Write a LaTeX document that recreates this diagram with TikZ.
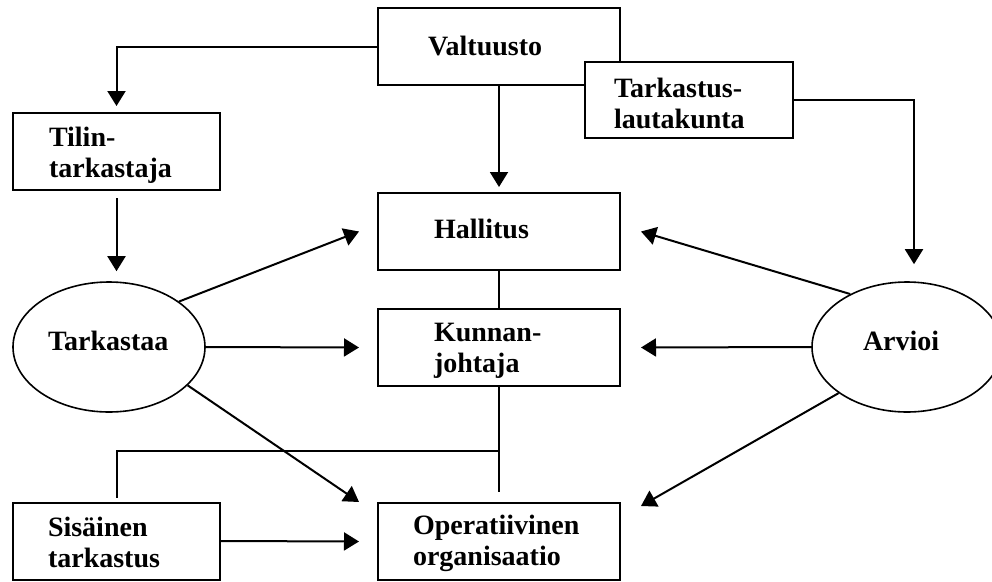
\documentclass[tikz,border=0pt]{standalone}
\usepackage{fontspec}
\setmainfont{Liberation Serif}
\usetikzlibrary{arrows.meta,shapes.geometric}

\begin{document}
\begin{tikzpicture}[x=1pt,y=-1pt,
  line width=2pt,
  box/.style={draw, fill=white, rectangle, inner sep=0pt},
  oval/.style={draw, ellipse, inner sep=0pt, line width=1.6pt},
  lbl/.style={anchor=base west, inner sep=0pt, align=left,
    font=\fontsize{28}{31}\selectfont\bfseries},
  arr/.style={-{Triangle[length=15pt,width=18pt]}},
]
\useasboundingbox (0,0) rectangle (992,581);
\clip (0,0) rectangle (992,581);

% boxes
\node[box, minimum width=242pt, minimum height=77pt] (V) at (499,46.5) {};
\node[box, minimum width=208pt, minimum height=76pt] (TL) at (689,100) {};
\node[box, minimum width=207pt, minimum height=77pt] (Ti) at (116.5,151.5) {};
\node[box, minimum width=242pt, minimum height=77pt] (H) at (499,231.5) {};
\node[box, minimum width=242pt, minimum height=77pt] (K) at (499,347.5) {};
\node[box, minimum width=242pt, minimum height=77pt] (O) at (499,541.5) {};
\node[box, minimum width=207pt, minimum height=77pt] (S) at (116.5,541) {};

% ellipses
\node[oval, minimum width=192pt, minimum height=130pt] (T) at (109,347) {};
\node[oval, minimum width=190pt, minimum height=130pt] (A) at (907,347) {};

% labels (base anchor sits on the last line)
\node[lbl] (tV)  at (427,55)  {Valtuusto};
\node[lbl] (tTL) at (613,128) {Tarkastus-\\lautakunta};
\node[lbl] (tTi) at (48,177)  {Tilin-\\tarkastaja};
\node[lbl] (tH)  at (433,238) {Hallitus};
\node[lbl] (tK)  at (433,372) {Kunnan-\\johtaja};
\node[lbl] (tO)  at (412,565) {Operatiivinen\\organisaatio};
\node[lbl] (tS)  at (47,567)  {Sisäinen\\tarkastus};
\node[lbl] (tT)  at (47,350)  {Tarkastaa};
\node[lbl] (tA)  at (862,350) {Arvioi};

% chain of command
\draw[arr] (V.west) -| ([yshift=6pt]Ti.north);
\draw[arr] (V.south) -- ([yshift=5pt]H.north);
\draw (H.south) -- (K.north);
\draw (K.south) -- ([yshift=10pt]O.north);
\coordinate (J) at (499,451);
\draw (J) -| ([yshift=4pt]S.north);
\draw[arr] (TL.east) -| ([xshift=7pt,yshift=17pt]A.north);
\coordinate (Ttop) at (Ti.south |- T.north);
\draw[arr] ([yshift=-7pt]Ti.south) -- ([yshift=10pt]Ttop);

% auditing
\draw[arr] (T.33) -- ([xshift=-18pt]H.west);
\draw[arr] (T.east) -- ([xshift=-18pt]K.west);
\draw[arr] (T.-26) -- ([xshift=-18pt]O.north west);
\draw[arr] (S.east) -- ([xshift=-18pt]O.west);

% evaluation
\draw[arr] (A.137) -- ([xshift=20pt]H.east);
\draw[arr] (A.west) -- ([xshift=20pt]K.east);
\draw[arr] (A.214) -- ([xshift=20pt,yshift=-4pt]O.north east);
\end{tikzpicture}
\end{document}
